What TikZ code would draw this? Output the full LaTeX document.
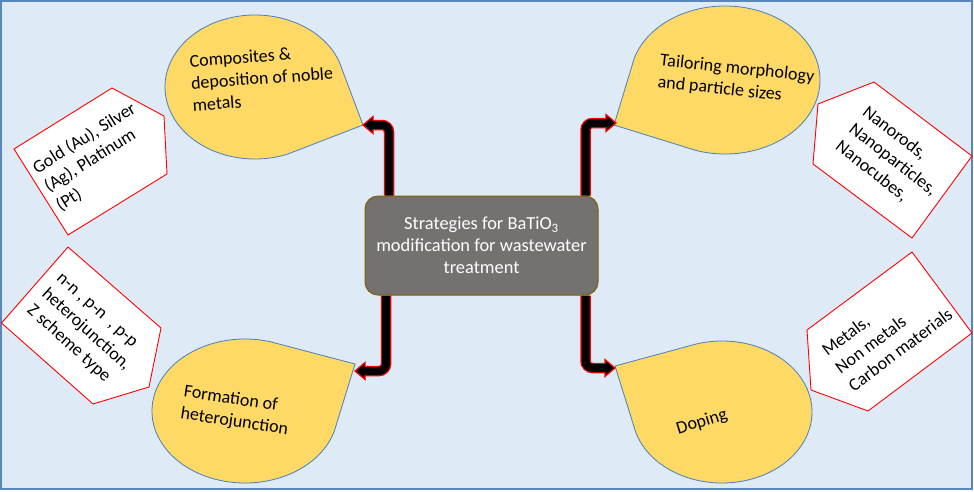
\documentclass[tikz,border=0pt]{standalone}
\usepackage{fontspec}
\setmainfont{Carlito}
\usetikzlibrary{calc}
\definecolor{bgblue}{HTML}{DEEBF7}
\definecolor{frameblue}{HTML}{5A86BE}
\definecolor{blobyellow}{HTML}{FFD966}
\definecolor{blobline}{HTML}{4A7EBB}
\definecolor{boxgrey}{HTML}{767171}
\definecolor{boxline}{HTML}{7F6000}
\pgfdeclarelayer{bglayer}
\pgfdeclarelayer{arrowlayer}
\pgfsetlayers{bglayer,arrowlayer,main}
\newcommand{\teardrop}[7]{%
  \path[blob] (#6,#7) -- ($(#1,#2)+({#3*cos(#5+45)},{#4*sin(#5+45)})$)
    arc[start angle=#5+45, end angle=#5+315, x radius=#3, y radius=#4] -- cycle;}
\begin{document}
\begin{tikzpicture}[x=1pt,y=-1pt,
  blob/.style={fill=blobyellow, draw=blobline, line width=0.8pt},
  penta/.style={fill=white, draw=red, line width=0.9pt, line join=miter},
  lbl/.style={font=\fontsize{18}{22}\selectfont, align=left, inner sep=0pt, text=black},
  box/.style={fill=boxgrey, draw=boxline, line width=1pt, rounded corners=13pt,
    minimum width=233pt, minimum height=99pt, inner sep=0pt,
    font=\fontsize{18.4}{22}\selectfont, align=center, text=white},
  shaftred/.style={draw=red, line width=10.5pt, rounded corners=7pt},
  shaftblack/.style={draw=black, line width=8pt, rounded corners=7pt},
  head/.style={fill=black, draw=red, line width=1.2pt, line join=miter}]
\useasboundingbox (0,0) rectangle (974,491);

% central box
\node[box] (centre) at (481.5,245.5) {Strategies for BaTiO\textsubscript{3}\\modification for wastewater\\treatment};

\begin{pgfonlayer}{bglayer}
\fill[white] (0,0) rectangle (974,491);
\draw[fill=bgblue, draw=frameblue, line width=1.5pt] (1,1) rectangle (972,489);
% teardrop blobs
\teardrop{255}{87}{90}{72}{24}{363}{125}
\teardrop{725}{80}{95}{74}{152.5}{614}{125}
\teardrop{245}{411}{93}{72}{-29}{355}{364}
\teardrop{722}{412}{90}{71}{208.6}{615}{366}
% pentagons
\draw[penta] (14,149) -- (112,88) -- (164,116) -- (167,174) -- (68,235) -- cycle;
\draw[penta] (818,104) -- (874,82) -- (972,156) -- (912,238) -- (813,164) -- cycle;
\draw[penta] (1.5,323) -- (68,247) -- (161,328) -- (149,387) -- (93,404) -- cycle;
\draw[penta] (807,330) -- (912,252) -- (972,333) -- (868,411) -- (811,390) -- cycle;
\end{pgfonlayer}

% connector coordinates
\coordinate (k1) at (389,0);
\coordinate (k2) at (585.5,0);
\coordinate (k3) at (386,0);
\coordinate (k4) at (585.5,0);
\coordinate (t1) at (363,125);
\coordinate (t2) at (616,123);
\coordinate (t3) at (355,371);
\coordinate (t4) at (615,368);

\begin{pgfonlayer}{arrowlayer}
% arrow 1 (up, then left)
\draw[shaftred] (centre.north -| k1) |- ($(t1)+(10,0)$);
\draw[head] (t1) -- ($(t1)+(10,-8.5)$) -- ($(t1)+(10,8.5)$) -- cycle;
\draw[shaftblack] (centre.north -| k1) |- ($(t1)+(7,0)$);
% arrow 2 (up, then right)
\draw[shaftred] (centre.north -| k2) |- ($(t2)+(-10,0)$);
\draw[head] (t2) -- ($(t2)+(-10,-8.5)$) -- ($(t2)+(-10,8.5)$) -- cycle;
\draw[shaftblack] (centre.north -| k2) |- ($(t2)+(-7,0)$);
% arrow 3 (down, then left)
\draw[shaftred] (centre.south -| k3) |- ($(t3)+(10,0)$);
\draw[head] (t3) -- ($(t3)+(10,-8.5)$) -- ($(t3)+(10,8.5)$) -- cycle;
\draw[shaftblack] (centre.south -| k3) |- ($(t3)+(7,0)$);
% arrow 4 (down, then right)
\draw[shaftred] (centre.south -| k4) |- ($(t4)+(-10,0)$);
\draw[head] (t4) -- ($(t4)+(-10,-8.5)$) -- ($(t4)+(-10,8.5)$) -- cycle;
\draw[shaftblack] (centre.south -| k4) |- ($(t4)+(-7,0)$);
\end{pgfonlayer}

% blob labels
\node[lbl, rotate=4] (tcomp) at (262,78) {Composites \&\\deposition of noble\\metals};
\node[lbl, rotate=-6] (ttail) at (736,80) {Tailoring morphology\\and particle sizes};
\node[lbl, rotate=-8.5] (tform) at (236,411) {Formation of\\heterojunction};
\node[lbl, rotate=17] (tdop) at (702,422) {Doping};

% pentagon labels
\node[lbl, rotate=32] (tgold) at (96,157) {Gold (Au), Silver\\(Ag), Platinum\\(Pt)};
\node[lbl, rotate=-38] (tnano) at (893,160) {Nanorods,\\Nanoparticles,\\Nanocubes,};
\node[lbl, rotate=-42] (thet) at (85,331) {n-n , p-n\ \ , p-p\\heterojunction,\\Z scheme type};
\node[lbl, rotate=37] (tmet) at (887,332) {Metals,\\Non metals\\Carbon materials};
\end{tikzpicture}
\end{document}
